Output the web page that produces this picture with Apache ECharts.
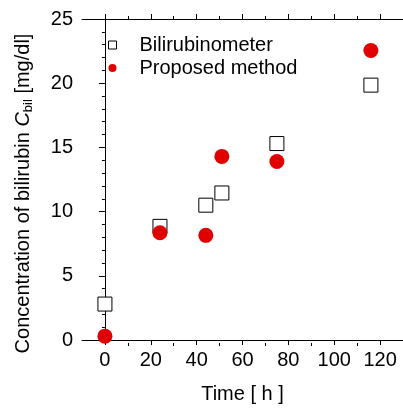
<!DOCTYPE html>
<html>
<head>
<meta charset="utf-8">
<script src="https://cdn.jsdelivr.net/npm/echarts@6/dist/echarts.min.js"></script>
<style>
html,body{margin:0;padding:0;background:#fff;}
#chart{width:403px;height:409px;}
</style>
</head>
<body>
<div id="chart"></div>
<script>
// ---- data ----
var timeBili = [0, 24, 44, 51, 75, 116];
var valBili = [2.8, 8.85, 10.5, 11.45, 15.3, 19.85];
var timeProp = [0, 24, 44, 51, 75, 116];
var valProp = [0.3, 8.35, 8.15, 14.3, 13.9, 22.55];
var xMajorTicks = [0, 20, 40, 60, 80, 100, 120];
var xMinorTicks = [10, 30, 50, 70, 90, 110];
var seriesNames = ['Bilirubinometer', 'Proposed method'];

function pairs(xs, ys) { return xs.map(function (x, i) { return [x, ys[i]]; }); }

var FONT = 'Liberation Sans, Arial, sans-serif';
var FS = 20;
var gridRect = { left: 82, top: 19, right: 0, bottom: 66 };
var axisLineStyle = { color: '#000', width: 1 };

var chart = echarts.init(document.getElementById('chart'), null, { renderer: 'canvas' });
var option = {
  animation: false,
  backgroundColor: '#fff',
  grid: [
    Object.assign({}, gridRect),
    Object.assign({}, gridRect)
  ],
  legend: {
    orient: 'vertical',
    left: 103,
    top: 30,
    itemWidth: 8,
    itemHeight: 8,
    itemGap: 3,
    data: [
      { name: seriesNames[0], icon: 'rect', itemStyle: { color: '#fff', borderColor: '#000', borderWidth: 1 } },
      { name: seriesNames[1], icon: 'circle', itemStyle: { color: '#e00000', borderWidth: 0 } }
    ],
    textStyle: { fontFamily: FONT, fontSize: FS, color: '#000', lineHeight: 20, padding: [0, 0, 0, 18] }
  },
  xAxis: [
    {
      gridIndex: 0, type: 'value', position: 'bottom', min: -10, max: 130,
      splitLine: { show: false },
      axisLine: { lineStyle: axisLineStyle },
      axisTick: { customValues: xMajorTicks, length: 5, lineStyle: axisLineStyle },
      axisLabel: { customValues: xMajorTicks, fontFamily: FONT, fontSize: FS, color: '#000', margin: 10 },
      name: 'Time [ h ]', nameLocation: 'middle', nameGap: 44,
      nameTextStyle: { fontFamily: FONT, fontSize: FS, color: '#000' }
    },
    {
      gridIndex: 0, type: 'value', position: 'top', min: -10, max: 130,
      splitLine: { show: false },
      axisLine: { lineStyle: axisLineStyle },
      axisTick: { customValues: xMajorTicks, length: 5, lineStyle: axisLineStyle },
      axisLabel: { show: false }
    },
    {
      gridIndex: 1, type: 'value', position: 'bottom', min: -10, max: 130,
      splitLine: { show: false },
      axisLine: { show: false },
      axisTick: { customValues: xMinorTicks, length: 3, lineStyle: axisLineStyle },
      axisLabel: { show: false }
    },
    {
      gridIndex: 1, type: 'value', position: 'top', min: -10, max: 130,
      splitLine: { show: false },
      axisLine: { show: false },
      axisTick: { customValues: xMinorTicks, length: 3, lineStyle: axisLineStyle },
      axisLabel: { show: false }
    }
  ],
  yAxis: [
    {
      gridIndex: 0, type: 'value', min: 0, max: 25, interval: 5,
      splitLine: { show: false },
      axisLine: { show: true, lineStyle: axisLineStyle },
      axisTick: { show: true, length: 6, lineStyle: axisLineStyle },
      minorTick: { show: true, splitNumber: 5, length: 3, lineStyle: axisLineStyle },
      axisLabel: { fontFamily: FONT, fontSize: FS, color: '#000', margin: 9 },
      name: 'Concentration of bilirubin {i|C}{sub|bil} [mg/dl]',
      nameLocation: 'middle', nameGap: 47, nameRotate: 90,
      nameTextStyle: {
        fontFamily: FONT, fontSize: FS, color: '#000', padding: [0, 28, 0, 0],
        rich: {
          i: { fontFamily: FONT, fontSize: FS, fontStyle: 'italic', color: '#000' },
          sub: { fontFamily: FONT, fontSize: 13, color: '#000', padding: [10, 0, 0, 0] }
        }
      }
    },
    {
      gridIndex: 1, type: 'value', min: 0, max: 25, interval: 5, show: false
    }
  ],
  series: [
    {
      name: seriesNames[0], type: 'scatter', xAxisIndex: 0, yAxisIndex: 0,
      symbol: 'rect', symbolSize: 14,
      itemStyle: { color: '#fff', borderColor: '#000', borderWidth: 1, opacity: 1 },
      data: pairs(timeBili, valBili), z: 2
    },
    {
      name: seriesNames[1], type: 'scatter', xAxisIndex: 0, yAxisIndex: 0,
      symbol: 'circle', symbolSize: 15,
      itemStyle: { color: '#e00000', opacity: 1 },
      data: pairs(timeProp, valProp), z: 3
    }
  ]
};
chart.setOption(option);
</script>
</body>
</html>
